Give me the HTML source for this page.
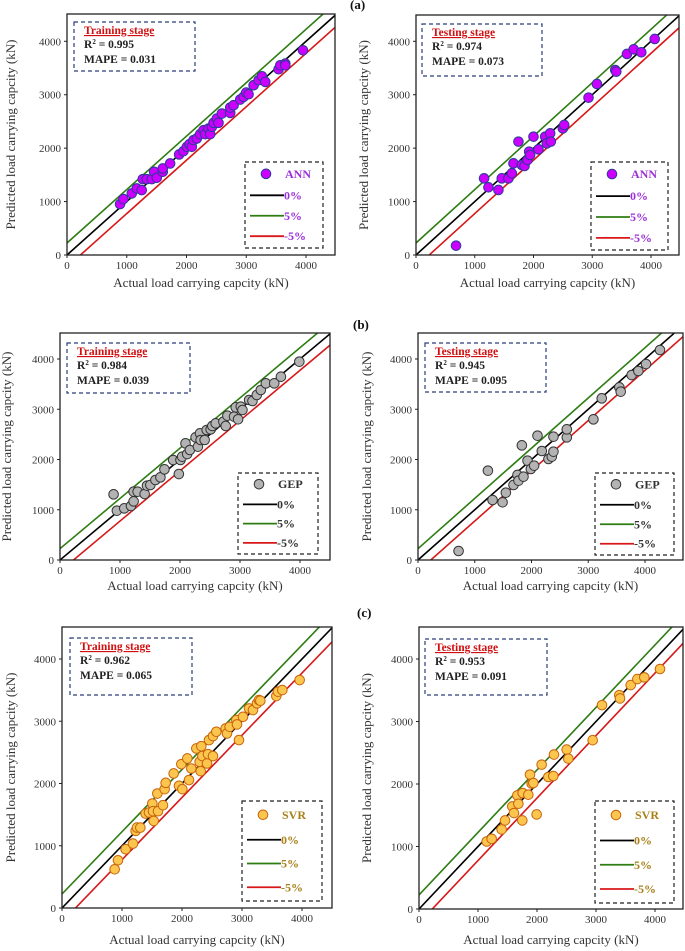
<!DOCTYPE html>
<html><head><meta charset="utf-8"><style>
html,body{margin:0;padding:0;background:#fff;}
svg{display:block;}
svg text{font-family:"Liberation Serif","DejaVu Serif",serif;}
</style></head><body>
<svg id="fig" width="685" height="951" viewBox="0 0 685 951"></svg>
<script>
// ---- data (actual, predicted) in kN ----
const annTrainActual=[888,944,1084,1168,1251,1268,1335,1419,1458,1503,1603,1603,1726,1877,1950,2006,2050,2089,2117,2173,2229,2285,2313,2369,2397,2425,2453,2508,2536,2592,2732,2732,2788,2899,2955,3000,3039,3123,3207,3263,3318,3542,3570,3654,3654,3950];
const annTrainPred=[953,1047,1153,1246,1215,1420,1420,1420,1558,1445,1558,1620,1713,1882,1944,2025,2075,2025,2150,2181,2262,2336,2262,2368,2262,2399,2474,2555,2474,2648,2660,2760,2804,2910,2960,3040,3009,3178,3271,3346,3240,3477,3551,3583,3551,3832];
const annTestActual=[682,1159,1233,1403,1460,1574,1631,1659,1744,1801,1847,1898,1926,1943,2000,2085,2199,2227,2284,2295,2500,2523,2937,3080,3392,3409,3591,3705,3835,4063];
const annTestPred=[175,1435,1267,1217,1435,1435,1529,1716,2122,1685,1666,1778,1934,1872,2215,1978,2215,2090,2278,2122,2371,2434,2945,3201,3463,3432,3763,3850,3794,4044];
const gepTrainActual=[893,948,1071,1183,1227,1227,1294,1411,1450,1506,1590,1674,1741,1886,1981,2008,2036,2092,2120,2165,2260,2299,2333,2344,2411,2445,2511,2539,2595,2723,2762,2790,2901,2929,2968,3013,3041,3152,3208,3280,3347,3431,3571,3682,3989];
const gepTrainPred=[1307,982,1028,1075,1167,1360,1360,1313,1479,1493,1592,1645,1804,1990,1711,1990,2056,2322,2109,2189,2441,2255,2521,2388,2388,2587,2600,2667,2720,2753,2667,2872,2852,3038,2800,3051,2985,3184,3164,3284,3383,3516,3516,3648,3947];
const gepTestActual=[715,1232,1314,1490,1548,1683,1753,1771,1830,1859,1930,1988,2047,2106,2182,2299,2358,2387,2387,2622,2622,3091,3238,3548,3572,3765,3883,4018,4264];
const gepTestPred=[179,1778,1194,1148,1340,1493,1692,1579,2282,1658,1977,1811,1877,2474,2169,2010,2056,2454,2156,2441,2600,2799,3217,3436,3350,3681,3761,3900,4179];
const svrTrainActual=[878,933,1061,1183,1228,1250,1306,1394,1450,1506,1517,1528,1589,1600,1683,1711,1728,1861,1950,1989,2006,2089,2117,2156,2239,2294,2311,2322,2339,2417,2433,2450,2517,2517,2572,2728,2750,2794,2906,2917,2950,3017,3117,3183,3250,3283,3306,3572,3600,3672,3961];
const svrTrainPred=[622,767,944,1035,1239,1292,1292,1517,1534,1678,1555,1399,1839,1555,1651,1909,2011,2161,1963,2311,1909,2402,2056,2241,2563,2349,2198,2600,2440,2322,2472,2697,2761,2440,2831,2885,2804,2911,3019,2949,2697,3072,3206,3180,3287,3340,3330,3405,3475,3501,3662];
const svrTestActual=[1147,1232,1401,1458,1582,1610,1667,1684,1751,1757,1853,1881,1910,1938,1994,2079,2192,2277,2288,2503,2531,2944,3102,3395,3407,3588,3701,3819,4085];
const svrTestPred=[1080,1123,1273,1417,1642,1535,1818,1684,1417,1856,1829,2150,2005,2016,1513,2310,2112,2128,2471,2551,2406,2701,3262,3422,3369,3583,3679,3706,3840];
const tickValues=[0,1000,2000,3000,4000];
const lineOffsets=[0,225,-225];
const legendLabels=["0%","5%","-5%"];

const NS="http://www.w3.org/2000/svg";
const svg=document.getElementById('fig');
const FONT='"Liberation Serif","DejaVu Serif",serif';
function mk(tag,attrs,parent){const e=document.createElementNS(NS,tag);for(const k in attrs)e.setAttribute(k,attrs[k]);if(tag==='text')e.setAttribute('font-family',FONT);(parent||svg).appendChild(e);return e;}

const panels=[
 {id:'ann-train',xs:annTrainActual,ys:annTrainPred,x0:67,x4:306,right:335,top:14,y0:255,y4:41.3,info:[74,22,121,49],leg:[245,162,78,86],ytx:12,xty:287,stage:'Training stage',r2:'0.995',mape:'0.031',model:'ANN',fill:'#cc00ff',stroke:'#2b3a9a',tcol:'#9b30d9'},
 {id:'ann-test',xs:annTestActual,ys:annTestPred,x0:416,x4:651,right:679,top:15,y0:255,y4:41.3,info:[422,24,120,52],leg:[591,162,77,88],ytx:365,xty:287,stage:'Testing stage',r2:'0.974',mape:'0.073',model:'ANN',fill:'#cc00ff',stroke:'#2b3a9a',tcol:'#9b30d9',tag:'(a)',tagx:350,tagy:9},
 {id:'gep-train',xs:gepTrainActual,ys:gepTrainPred,x0:60,x4:300,right:330,top:333,y0:560,y4:359,info:[67,343,123,50],leg:[238,473,80,81],ytx:8,xty:590,stage:'Training stage',r2:'0.984',mape:'0.039',model:'GEP',fill:'#b3b3b3',stroke:'#333',tcol:'#333'},
 {id:'gep-test',xs:gepTestActual,ys:gepTestPred,x0:418,x4:645,right:683,top:333,y0:560,y4:359,info:[425,343,121,49],leg:[595,473,79,82],ytx:368,xty:590,stage:'Testing stage',r2:'0.945',mape:'0.095',model:'GEP',fill:'#b3b3b3',stroke:'#333',tcol:'#333',tag:'(b)',tagx:353,tagy:329},
 {id:'svr-train',xs:svrTrainActual,ys:svrTrainPred,x0:62,x4:302,right:332,top:627,y0:908,y4:659,info:[70,638,122,57],leg:[242,801,80,100],ytx:12,xty:944,stage:'Training stage',r2:'0.962',mape:'0.065',model:'SVR',fill:'#fcc64e',stroke:'#c8640a',tcol:'#a9801a'},
 {id:'svr-test',xs:svrTestActual,ys:svrTestPred,x0:419,x4:655,right:683,top:627,y0:909,y4:659,info:[425,639,122,56],leg:[595,801,79,102],ytx:368,xty:944,stage:'Testing stage',r2:'0.953',mape:'0.091',model:'SVR',fill:'#fcc64e',stroke:'#c8640a',tcol:'#a9801a',tag:'(c)',tagx:357,tagy:617}
];
const lineCols=['#000','#2e7d12','#d81818'];

panels.forEach(p=>{
 const sx=v=>p.x0+(p.x4-p.x0)*v/4000;
 const sy=v=>p.y0-(p.y0-p.y4)*v/4000;
 const g=mk('g',{});
 
 
 const clipId='clip-'+p.id;
 const cp=mk('clipPath',{id:clipId},g);
 mk('rect',{x:p.x0,y:p.top,width:p.right-p.x0,height:p.y0-p.top},cp);
 const lg=mk('g',{'clip-path':'url(#'+clipId+')'},g);
 lineOffsets.forEach((o,i)=>{
  const l=mk('line',{x1:sx(0),y1:sy(o),x2:sx(5000),y2:sy(5000+o),stroke:lineCols[i],'stroke-width':1.6},lg);
  
  
 });
 p.xs.forEach((xv,i)=>{
  const c=mk('circle',{cx:sx(xv),cy:sy(p.ys[i]),r:4.8,fill:p.fill,stroke:p.stroke,'stroke-width':1},g);
  
  
 });
 const fr=mk('rect',{x:p.x0,y:p.top,width:p.right-p.x0,height:p.y0-p.top,fill:'none',stroke:'#222','stroke-width':1.3},g);
 
 
 tickValues.forEach(t=>{
  const tx=mk('text',{x:sx(t),y:p.y0+14,'font-size':11,'text-anchor':'middle',fill:'#333'},g);tx.textContent=t;
  
  
  mk('line',{x1:sx(t),y1:p.y0,x2:sx(t),y2:p.y0+3,stroke:'#222'},g);
  const ty=mk('text',{x:p.x0-6,y:sy(t)+4,'font-size':11,'text-anchor':'end',fill:'#333'},g);ty.textContent=t;
  
  
  mk('line',{x1:p.x0-3,y1:sy(t),x2:p.x0,y2:sy(t),stroke:'#222'},g);
 });
 const xt=mk('text',{x:(p.x0+p.right)/2,y:p.xty,'font-size':13,'text-anchor':'middle',fill:'#333'},g);
 xt.textContent='Actual load carrying capcity (kN)';
 
 
 const yc=(p.top+p.y0)/2;
 const yt=mk('text',{x:p.ytx,y:yc,'font-size':13,'text-anchor':'middle',fill:'#333',transform:'rotate(-90 '+p.ytx+' '+yc+')','dominant-baseline':'middle'},g);
 yt.textContent='Predicted load carrying capcity (kN)';
 
 
 const [ix,iy,iw,ih]=p.info;
 const ib=mk('rect',{x:ix,y:iy,width:iw,height:ih,fill:'#fff',stroke:'#2a3f7a','stroke-width':1.2,'stroke-dasharray':'4,3'},g);
 
 
 const st=mk('text',{x:ix+10,y:iy+12,'font-size':11.5,'font-weight':'bold',fill:'#d01010','text-decoration':'underline'},g);
 st.textContent=p.stage;
 
 
 const r2=mk('text',{x:ix+10,y:iy+26,'font-size':11.5,'font-weight':'bold',fill:'#222'},g);
 r2.innerHTML='R<tspan font-size="7" dy="-4">2</tspan><tspan dy="4"> = '+p.r2+'</tspan>';
 
 
 const mp=mk('text',{x:ix+10,y:iy+41,'font-size':11.5,'font-weight':'bold',fill:'#222'},g);
 mp.textContent='MAPE = '+p.mape;
 
 
 const [lx,ly,lw,lh]=p.leg;
 const lb=mk('rect',{x:lx,y:ly,width:lw,height:lh,fill:'#fff',stroke:'#222','stroke-width':1.2,'stroke-dasharray':'4,3'},g);
 
 
 const rh=lh/4;
 mk('circle',{cx:lx+21,cy:ly+rh*0.55,r:4.8,fill:p.fill,stroke:p.stroke},g);
 const ml=mk('text',{x:lx+40,y:ly+rh*0.55+4,'font-size':12,'font-weight':'bold',fill:p.tcol},g);
 ml.textContent=p.model;
 
 
 legendLabels.forEach((lab,i)=>{
  const yy=ly+rh*(1.55+i*0.95);
  mk('line',{x1:lx+5,y1:yy,x2:lx+39,y2:yy,stroke:lineCols[i],'stroke-width':1.8},g);
  const t=mk('text',{x:lx+39,y:yy+4,'font-size':12,'font-weight':'bold',fill:p.tcol},g);
  t.textContent=lab;
  
  
 });
 if(p.tag){
  const tg=mk('text',{x:p.tagx,y:p.tagy,'font-size':13,'font-weight':'bold',fill:'#111'},g);
  tg.textContent=p.tag;
  
  
 }
});
</script>
</body></html>
